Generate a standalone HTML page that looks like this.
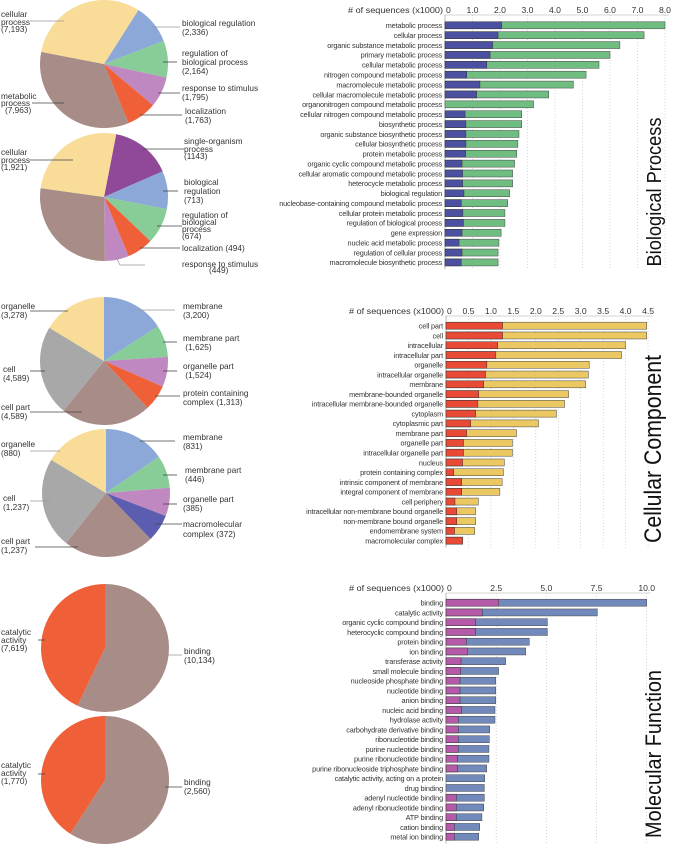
<!DOCTYPE html>
<html><head><meta charset="utf-8"><style>
html,body{margin:0;padding:0;background:#fff;}
svg{display:block;font-family:"Liberation Sans",Arial,sans-serif;}
</style></head><body>
<svg id="fig" width="676" height="845" viewBox="0 0 676 845" xmlns="http://www.w3.org/2000/svg"></svg>
<script>
// ---------- Bar chart data ----------
const bpCategories = ["metabolic process","cellular process","organic substance metabolic process","primary metabolic process","cellular metabolic process","nitrogen compound metabolic process","macromolecule metabolic process","cellular macromolecule metabolic process","organonitrogen compound metabolic process","cellular nitrogen compound metabolic process","biosynthetic process","organic substance biosynthetic process","cellular biosynthetic process","protein metabolic process","organic cyclic compound metabolic process","cellular aromatic compound metabolic process","heterocycle metabolic process","biological regulation","nucleobase-containing compound metabolic process","cellular protein metabolic process","regulation of biological process","gene expression","nucleic acid metabolic process","regulation of cellular process","macromolecule biosynthetic process"];
const bpTotal = [8.0,7.24,6.36,6.0,5.6,5.13,4.67,3.77,3.22,2.79,2.79,2.69,2.65,2.61,2.53,2.46,2.46,2.35,2.28,2.18,2.18,2.04,1.96,1.93,1.93];
const bpSubset = [2.06,1.93,1.73,1.64,1.52,0.79,1.27,1.15,0,0.73,0.76,0.76,0.76,0.75,0.62,0.64,0.64,0.69,0.59,0.65,0.67,0.62,0.51,0.62,0.59];
const bpTicks = ["0","1.0","2.0","3.0","4.0","5.0","6.0","7.0","8.0"];
const bpTickVals = [0,1,2,3,4,5,6,7,8];

const ccCategories = ["cell part","cell","intracellular","intracellular part","organelle","intracellular organelle","membrane","membrane-bounded organelle","intracellular membrane-bounded organelle","cytoplasm","cytoplasmic part","membrane part","organelle part","intracellular organelle part","nucleus","protein containing complex","intrinsic component of membrane","integral component of membrane","cell periphery","intracellular non-membrane bound organelle","non-membrane bound organelle","endomembrane system","macromolecular complex"];
const ccTotal = [4.47,4.47,4.0,3.91,3.19,3.17,3.11,2.73,2.64,2.46,2.06,1.57,1.48,1.48,1.30,1.28,1.25,1.20,0.72,0.66,0.66,0.64,0.37];
const ccSubset = [1.26,1.26,1.15,1.11,0.91,0.88,0.84,0.73,0.71,0.66,0.55,0.46,0.39,0.39,0.37,0.17,0.35,0.35,0.20,0.24,0.24,0.19,0.37];
const ccTicks = ["0","0.5","1.0","1.5","2.0","2.5","3.0","3.5","4.0","4.5"];
const ccTickVals = [0,0.5,1,1.5,2,2.5,3,3.5,4,4.5];

const mfCategories = ["binding","catalytic activity","organic cyclic compound binding","heterocyclic compound binding","protein binding","ion binding","transferase activity","small molecule binding","nucleoside phosphate binding","nucleotide binding","anion binding","nucleic acid binding","hydrolase activity","carbohydrate derivative binding","ribonucleotide binding","purine nucleotide binding","purine ribonucleotide binding","purine ribonucleoside triphosphate binding","catalytic activity, acting on a protein","drug binding","adenyl nucleotide binding","adenyl ribonucleotide binding","ATP binding","cation binding","metal ion binding"];
const mfTotal = [10.0,7.54,5.05,5.05,4.15,3.97,2.97,2.62,2.48,2.48,2.48,2.44,2.44,2.18,2.16,2.14,2.14,2.03,1.93,1.91,1.91,1.88,1.79,1.68,1.63];
const mfSubset = [2.62,1.81,1.48,1.48,1.01,1.06,0.75,0.73,0.70,0.70,0.70,0.78,0.61,0.61,0.61,0.61,0.58,0.58,0,0,0.51,0.51,0.51,0.42,0.42];
const mfTicks = ["0","2.5","5.0","7.5","10.0"];
const mfTickVals = [0,2.5,5,7.5,10];

// ---------- Pie data ----------
const bp1Labels = ["biological regulation","regulation of biological process","response to stimulus","localization","metabolic process","cellular process"];
const bp1Values = [2336,2164,1795,1763,7963,7193];
const bp2Labels = ["single-organism process","biological regulation","regulation of biological process","localization","response to stimulus","metabolic process","cellular process"];
const bp2Values = [1143,713,674,494,449,2040,1921];
const cc1Labels = ["membrane","membrane part","organelle part","protein containing complex","cell part","cell","organelle"];
const cc1Values = [3200,1625,1524,1313,4589,4589,3278];
const cc2Labels = ["membrane","membrane part","organelle part","macromolecular complex","cell part","cell","organelle"];
const cc2Values = [831,446,385,372,1237,1237,880];
const mf1Labels = ["binding","catalytic activity"];
const mf1Values = [10134,7619];
const mf2Labels = ["binding","catalytic activity"];
const mf2Values = [2560,1770];

const NS="http://www.w3.org/2000/svg";
const svg=document.getElementById('fig');
function mk(tag,attrs,parent){const e=document.createElementNS(NS,tag);for(const k in attrs)e.setAttribute(k,attrs[k]);(parent||svg).appendChild(e);return e;}

// ---------- Bar charts ----------
function barChart(cfg,cats,tot,sub,ticks,tickVals){
  const g=mk('g',{});
  
  
  const x=v=>cfg.x0+v*cfg.scale;
  const y=i=>cfg.y0+i*cfg.step;
  const bottom=y(cats.length-1)+cfg.step/2+2;
  tickVals.forEach((v,i)=>{
    if(i===0)return;
    const l=mk('line',{x1:x(v),x2:x(v),y1:cfg.axisY,y2:bottom,stroke:'#bbb','stroke-width':0.6,'stroke-dasharray':'1,2'},g);
    
    
  });
  const ax=mk('line',{x1:cfg.x0,x2:x(tickVals[tickVals.length-1])+4,y1:cfg.axisY,y2:cfg.axisY,stroke:'#aaa','stroke-width':0.6},g);
  
  
  const yax=mk('line',{x1:cfg.x0,x2:cfg.x0,y1:cfg.axisY,y2:bottom,stroke:'#888','stroke-width':0.6},g);
  
  
  ticks.forEach((t,i)=>{
    const tx=mk('text',{x:x(tickVals[i])+(i===0?1:0),y:cfg.axisY-2,'font-size':8.6,fill:'#333','text-anchor':i===0?'start':'middle'},g);
    tx.textContent=t;
    
    
  });
  const at=mk('text',{x:cfg.x0-2,y:cfg.axisY-2,'font-size':8.6,fill:'#333','text-anchor':'end',textLength:95,lengthAdjust:'spacingAndGlyphs'},g);
  at.textContent='# of sequences (x1000)';
  
  
  cats.forEach((c,i)=>{
    const cy=y(i);
    const lb=mk('text',{x:cfg.x0-3,y:cy+2.8,'font-size':7.3,fill:'#333','text-anchor':'end','letter-spacing':'-0.15'},g);
    lb.textContent=c;
    
    
    const b=mk('rect',{x:x(0),y:cy-3.5,width:x(tot[i])-x(0),height:7,fill:cfg.c2,stroke:'#444','stroke-width':0.5},g);
    
    
    if(sub[i]>0){
      const s=mk('rect',{x:x(0),y:cy-3.5,width:x(sub[i])-x(0),height:7,fill:cfg.c1,stroke:'#333','stroke-width':0.5},g);
      
      
    }
  });
  const tt=mk('text',{x:0,y:0,'font-size':cfg.tfs,fill:'#111','text-anchor':'middle',transform:`translate(${cfg.tx},${cfg.ty}) rotate(-90)`,textLength:cfg.tlen,lengthAdjust:'spacingAndGlyphs'},g);
  tt.textContent=cfg.title;
  
  
}
barChart({name:'biological-process-bar-chart',x0:445,scale:27.5,y0:25.3,step:9.88,axisY:15,c1:'#4b50a0',c2:'#70bd82',title:'Biological Process',tx:661,ty:192,tlen:149,tfs:20},bpCategories,bpTotal,bpSubset,bpTicks,bpTickVals);
barChart({name:'cellular-component-bar-chart',x0:446,scale:44.9,y0:325.7,step:9.77,axisY:316,c1:'#e84a35',c2:'#ecc862',title:'Cellular Component',tx:661,ty:449,tlen:188,tfs:24},ccCategories,ccTotal,ccSubset,ccTicks,ccTickVals);
barChart({name:'molecular-function-bar-chart',x0:446,scale:20.07,y0:602.7,step:9.75,axisY:593,c1:'#b45aa8',c2:'#7289bb',title:'Molecular Function',tx:661,ty:754,tlen:168,tfs:22},mfCategories,mfTotal,mfSubset,mfTicks,mfTickVals);

// ---------- Pies ----------
function pie(name,cx,cy,r,startDeg,vals,labels,colors){
  const g=mk('g',{});
  
  
  const sum=vals.reduce((a,b)=>a+b,0);
  let a=startDeg*Math.PI/180;
  vals.forEach((v,i)=>{
    const da=v/sum*2*Math.PI;
    const a2=a+da;
    const x1=cx+r*Math.sin(a),y1=cy-r*Math.cos(a),x2=cx+r*Math.sin(a2),y2=cy-r*Math.cos(a2);
    const p=mk('path',{d:`M${cx},${cy}L${x1},${y1}A${r},${r} 0 ${da>Math.PI?1:0} 1 ${x2},${y2}Z`,fill:colors[i]},g);
    
    
    a=a2;
  });
}
const Y='#f8dc98',B='#8ca8d8',G='#88cc98',P='#c088c0',O='#f06038',BR='#a88c88',PU='#904898',GR='#a8a8a8',NV='#5c5cb0';
pie('bp-pie-all',104,64,64,32.5,bp1Values,bp1Labels,[B,G,P,O,BR,Y]);
pie('bp-pie-subset',104,197,64,11,bp2Values,bp2Labels,[PU,B,G,O,P,BR,Y]);
pie('cc-pie-all',104,361,64,0,cc1Values,cc1Labels,[B,G,P,O,BR,GR,Y]);
pie('cc-pie-subset',106,493,64,0,cc2Values,cc2Labels,[B,G,P,NV,BR,GR,Y]);
pie('mf-pie-all',105,648,64,0,mf1Values,mf1Labels,[BR,O]);
pie('mf-pie-subset',105,780,64,0,mf2Values,mf2Labels,[BR,O]);

// ---------- Pie labels & leader lines ----------
function lab(x,ys,lines){
  const t=mk('text',{'font-size':8.3,fill:'#333'});
  
  
  lines.forEach((s,i)=>{const sp=mk('tspan',{x:x,y:ys[i]+3},t);sp.textContent=s;});
}
function ln(pts,c){
  const l=mk('polyline',{points:pts,fill:'none',stroke:c||'#444','stroke-width':0.8});
  
  
}
lab(1,[14,22,29],["cellular","process","(7,193)"]);ln("30,21 64,21",'#999');
lab(182,[23,32],["biological regulation","(2,336)"]);ln("152,27 180,27",'#999');
lab(182,[53,62,71],["regulation of","biological process","(2,164)"]);ln("163,62 177,62");
lab(182,[88,97],["response to stimulus","(1,795)"]);ln("158,93 180,93");
lab(185,[111,120],["localization","(1,763)"]);ln("140,115 182,115");
lab(1,[96,103],["metabolic","process"]);lab(5,[110],["(7,963)"]);ln("32,103 64,103");
lab(1,[152,160,167],["cellular","process","(1,921)"]);ln("30,160 73,160");
lab(184,[141,149,156],["single-organism","process","(1143)"]);ln("143,149 184,149");
lab(184,[182,191,200],["biological","regulation","(713)"]);ln("163,191 178,191");
lab(182,[215,222,229,236],["regulation of","biological","process","(674)"]);ln("157,226 182,226");
lab(182,[248],["localization (494)"]);ln("140,248 180,248");
lab(182,[264],["response to stimulus"]);lab(209,[270],["(449)"]);ln("116,257 120,265 145,265",'#999');
lab(1,[306,315],["organelle","(3,278)"]);ln("30,311 68,311");
lab(183,[306,315],["membrane","(3,200)"]);ln("138,310 175,310",'#999');
lab(183,[338,347],["membrane part"," (1,625)"]);ln("163,342 177,342");
lab(183,[366,375],["organelle part"," (1,524)"]);ln("163,371 177,371");
lab(183,[393,402],["protein containing","complex (1,313)"]);ln("155,396 180,396");
lab(3,[369,378],["cell","(4,589)"]);ln("30,371 45,371");
lab(1,[407,416],["cell part","(4,589)"]);ln("30,412 82,412");
lab(1,[444,453],["organelle","(880)"]);ln("30,451 60,451",'#999');
lab(183,[437,446],["membrane","(831)"]);ln("140,441 175,441");
lab(185,[470,479],["membrane part","(446)"]);ln("163,475 177,475");
lab(183,[499,508],["organelle part","(385)"]);ln("163,504 177,504");
lab(183,[524,534],["macromolecular","complex (372)"]);ln("155,524 182,524");
lab(3,[498,507],["cell","(1,237)"]);ln("30,501 50,501",'#999');
lab(1,[541,550],["cell part","(1,237)"]);ln("35,547 78,547");
lab(1,[632,640,648],["catalytic","activity","(7,619)"]);ln("38,640 45,640");
lab(184,[651,660],["binding","(10,134)"]);ln("165,655 182,655",'#999');
lab(1,[765,773,781],["catalytic","activity","(1,770)"]);ln("38,774 45,774");
lab(184,[782,791],["binding","(2,560)"]);ln("165,787 182,787");
</script>
</body></html>
